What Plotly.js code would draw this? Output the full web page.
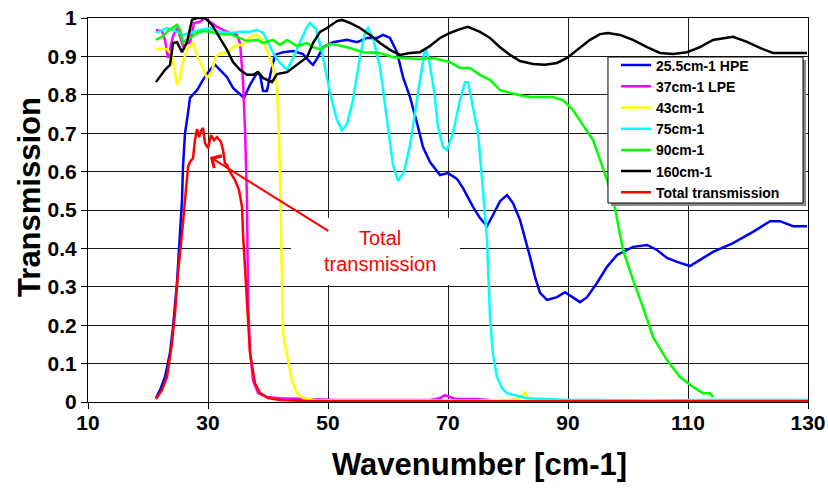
<!DOCTYPE html>
<html>
<head>
<meta charset="utf-8">
<script src="https://cdn.plot.ly/plotly-3.0.1.min.js"></script>
<style>html,body{margin:0;padding:0;background:#fff;}#chart{width:828px;height:490px;}</style>
</head>
<body>
<div id="chart"></div>
<script>
// ---- Data ----
const names = ["25.5cm-1 HPE", "37cm-1 LPE", "43cm-1", "75cm-1", "90cm-1", "160cm-1", "Total transmission"];
const colors = ["#0000FF", "#FF00FF", "#FFFF00", "#00FFFF", "#00FF00", "#000000", "#FF0000"];

const hpeX = [21.33,22,22.83,23.67,24.17,24.83,25.33,25.67,25.83,26.17,26.67,27,28.17,29.17,30.33,31.17,32,33.17,34.17,35.33,36,37,38.17,38.67,39.17,39.83,40.33,41.17,42.5,44.17,45.83,47,47.5,48.33,49.17,50.83,53.17,54.83,56.5,58.17,59.17,60.33,61.5,62.5,63.67,64.83,65.83,67,68.67,70,71.5,72.5,74.17,75.33,76.5,77.5,78.67,79.83,80.83,82,83.17,83.67,84.5,85.33,86.5,88.17,89.5,90.83,92,93.17,94.83,96.5,98.17,100.83,103.17,104.83,106.5,108.17,110.33,112,114.17,117.5,120.83,123.67,125.33,127.5,129.83];
const hpeY = [0.010,0.031,0.065,0.128,0.195,0.310,0.440,0.526,0.612,0.700,0.753,0.792,0.812,0.839,0.865,0.878,0.865,0.846,0.818,0.802,0.792,0.826,0.857,0.852,0.810,0.810,0.849,0.904,0.911,0.914,0.906,0.885,0.878,0.898,0.924,0.937,0.943,0.937,0.948,0.948,0.956,0.948,0.911,0.846,0.794,0.727,0.664,0.625,0.591,0.596,0.581,0.557,0.508,0.479,0.458,0.487,0.523,0.539,0.518,0.474,0.409,0.378,0.326,0.284,0.266,0.273,0.286,0.271,0.260,0.273,0.310,0.352,0.383,0.404,0.409,0.396,0.375,0.365,0.354,0.370,0.391,0.414,0.443,0.471,0.471,0.458,0.458];

const lpeX = [21.33,22.33,22.83,23.33,24.17,24.83,25.33,25.83,27,27.67,28.67,29.5,30.33,31.5,32.5,33.67,34.83,35.33,35.83,36.17,36.5,36.67,37,37.5,38.33,39.83,42,45.33,50.33,58.67,67,68.67,69.5,70.33,71.17,74.5,77];
const lpeY = [0.969,0.966,0.943,0.896,0.953,0.974,0.953,0.927,0.937,0.987,0.990,1.0,0.990,0.977,0.969,0.961,0.956,0.935,0.839,0.708,0.526,0.266,0.135,0.057,0.023,0.013,0.010,0.008,0.006,0.005,0.005,0.010,0.018,0.013,0.008,0.008,0.005];

const f43X = [21.33,23.17,24,24.5,24.83,25.33,25.83,26.67,27.5,28.33,29.17,29.83,30.67,31.17,32,33.17,34,34.83,35.83,37,38.17,39.17,40,40.83,41.5,41.83,42.08,42.33,42.5,43.33,44,44.83,45.83,47.83,60,75,80,81.5,82.5,82.83,83.33,84.5,88];
const f43Y = [0.919,0.919,0.904,0.857,0.826,0.844,0.885,0.924,0.935,0.898,0.865,0.844,0.859,0.896,0.909,0.909,0.922,0.930,0.930,0.951,0.956,0.940,0.911,0.872,0.820,0.700,0.526,0.344,0.180,0.109,0.057,0.023,0.010,0.005,0.004,0.004,0.005,0.008,0.018,0.026,0.010,0.006,0.004];

const f75X = [21.33,23.17,24.17,25.83,27,28.67,30.33,32,33.67,35.33,37,38.17,39.17,39.83,40.83,42,43.17,44.17,45.33,46.5,47,48,49,50.33,51.5,52.33,53.17,54.17,55.33,56.17,56.67,57.5,58.67,59.83,60.83,61.67,62.67,63.67,64.67,65.67,66.17,66.83,67.67,68.33,69.17,69.83,70.83,72,72.83,73.33,74.17,75,75.83,76.5,77,77.5,78.17,79,79.83,81.5,83.17,86.5,89.83,95.33,103.67,112,120.33,130];
const f75Y = [0.961,0.974,0.969,0.956,0.961,0.969,0.974,0.964,0.961,0.964,0.964,0.969,0.961,0.943,0.909,0.883,0.865,0.896,0.937,0.977,0.987,0.971,0.911,0.805,0.734,0.708,0.724,0.786,0.898,0.964,0.974,0.948,0.872,0.742,0.617,0.576,0.599,0.669,0.773,0.883,0.922,0.891,0.812,0.716,0.664,0.656,0.701,0.786,0.833,0.833,0.768,0.701,0.552,0.422,0.221,0.122,0.065,0.036,0.023,0.016,0.010,0.008,0.005,0.005,0.004,0.005,0.005,0.005];

const f90X = [21.33,22.5,23.17,24.17,24.83,25.33,25.83,27,28.17,29.17,30.33,32,33.67,34.83,36.5,38.17,39.17,40.83,42,43.17,44.83,46.5,47.5,48.67,50.33,51.5,53.67,55.83,58.67,60.83,63.17,65.33,67.5,68.67,70.33,72,73.67,75.33,77,78.67,80.33,82,83.67,87.5,89.17,90.83,92.5,94.17,95.83,97.5,99.17,100.83,102.5,104.17,106.5,108.67,110.83,112.5,113.67,114.17];
const f90Y = [0.943,0.953,0.964,0.974,0.982,0.969,0.937,0.948,0.961,0.966,0.964,0.958,0.958,0.951,0.940,0.943,0.935,0.943,0.930,0.943,0.927,0.935,0.924,0.919,0.932,0.930,0.922,0.911,0.909,0.898,0.896,0.893,0.896,0.891,0.885,0.870,0.870,0.852,0.839,0.812,0.805,0.799,0.794,0.794,0.786,0.760,0.721,0.682,0.609,0.531,0.396,0.318,0.247,0.169,0.109,0.065,0.039,0.023,0.023,0.013];

const f160X = [21.33,22.83,23.67,24.17,24.83,25.67,26.5,27.33,28.17,29.5,30.67,31.5,33.17,34.17,35.33,36.5,37.5,38.33,39.17,40.67,41.5,43.17,44.83,46.5,47.5,48.67,49.83,51.5,52.33,53.67,55.33,57,58.67,60.33,62,63.67,65.33,67,68.67,70.33,72,73.33,75.33,77,78.67,80.33,82,84.17,86.17,88.17,89.83,91.5,93.67,95.33,96.67,98.67,100.83,103.17,105.33,107.5,109.83,112,114.17,117.5,119.83,122,124.17,127.5,129.83];
const f160Y = [0.833,0.865,0.878,0.935,0.937,0.911,0.937,0.995,1.0,1.0,0.982,0.961,0.917,0.885,0.865,0.852,0.852,0.859,0.844,0.833,0.854,0.859,0.878,0.898,0.935,0.964,0.974,0.992,0.995,0.987,0.974,0.956,0.935,0.917,0.904,0.909,0.911,0.927,0.948,0.961,0.971,0.977,0.964,0.948,0.924,0.904,0.888,0.880,0.878,0.883,0.896,0.917,0.943,0.958,0.961,0.956,0.943,0.924,0.909,0.906,0.911,0.924,0.943,0.951,0.938,0.922,0.909,0.909,0.909];

const totX = [21.33,22.33,23.17,24,24.5,25,25.67,26.17,26.67,27,27.5,27.83,28.17,28.5,28.83,29.17,29.5,30,30.5,31,31.5,32.17,32.5,32.83,33.17,33.67,34.5,35.17,35.67,35.83,36.17,36.5,37,37.83,38.67,40,42,45.33,60,80,100,130];
const totY = [0.008,0.031,0.065,0.154,0.232,0.336,0.440,0.526,0.612,0.625,0.635,0.682,0.711,0.690,0.706,0.714,0.674,0.661,0.695,0.682,0.690,0.677,0.656,0.622,0.617,0.599,0.578,0.552,0.508,0.440,0.352,0.266,0.128,0.049,0.023,0.010,0.005,0.003,0.002,0.002,0.002,0.002];

const seriesX = [hpeX, lpeX, f43X, f75X, f90X, f160X, totX];
const seriesY = [hpeY, lpeY, f43Y, f75Y, f90Y, f160Y, totY];

const xTitle = "Wavenumber [cm-1]";
const yTitle = "Transmission";
const noteText = "Total<br>transmission";

// ---- Figure ----
const FONT = "Liberation Sans, Arial, sans-serif";
const traces = names.map((n, i) => ({
  type: "scatter", mode: "lines", name: n,
  x: seriesX[i], y: seriesY[i],
  line: {color: colors[i], width: 2.5}
}));

const layout = {
  width: 828, height: 490,
  margin: {l: 88, r: 20, t: 18, b: 88},
  paper_bgcolor: "#fff", plot_bgcolor: "#fff",
  showlegend: true,
  xaxis: {
    range: [10, 130], tick0: 10, dtick: 20, autorange: false,
    showgrid: true, gridcolor: "#1a1a1a", gridwidth: 1,
    showline: true, linecolor: "#000", linewidth: 1, mirror: true,
    zeroline: false,
    ticks: "outside", ticklen: 6, tickcolor: "#000", ticklabelstandoff: -4,
    tickfont: {family: FONT, size: 21, color: "#000", weight: "bold"}
  },
  yaxis: {
    range: [0, 1], tick0: 0, dtick: 0.1, autorange: false,
    showgrid: true, gridcolor: "#1a1a1a", gridwidth: 1,
    showline: true, linecolor: "#000", linewidth: 1, mirror: true,
    zeroline: false,
    ticks: "outside", ticklen: 6, tickcolor: "#000",
    tickfont: {family: FONT, size: 21, color: "#000", weight: "bold"}
  },
  legend: {
    x: 0.7333, y: 0.918, xanchor: "left", yanchor: "top",
    bgcolor: "rgba(0,0,0,0)", borderwidth: 0,
    font: {family: FONT, size: 14, color: "#000", weight: "bold"},
    tracegroupgap: 0, itemwidth: 30
  },
  shapes: [
    // legend frame with drop shadow
    {type: "rect", xref: "paper", yref: "paper", layer: "above",
     x0: 0.7264, x1: 0.9972, y0: 0.5104, y1: 0.8906,
     fillcolor: "#8a8a8a", line: {width: 0}},
    {type: "rect", xref: "paper", yref: "paper", layer: "above",
     x0: 0.7222, x1: 0.9931, y0: 0.5182, y1: 0.8984,
     fillcolor: "#fff", line: {color: "#000", width: 1}},
    // white box behind the note
    {type: "rect", xref: "x", yref: "y", layer: "above",
     x0: 43.83, x1: 72, y0: 0.305, y1: 0.48,
     fillcolor: "#fff", line: {width: 0}}
  ],
  annotations: [
    {x: 58.67, y: 0.393, xref: "x", yref: "y", text: noteText, showarrow: false,
     font: {family: FONT, size: 20, color: "#FF0000"}, align: "center"},
    {x: 30.33, y: 0.638, xref: "x", yref: "y", ax: 50.3, ay: 0.443, axref: "x", ayref: "y",
     text: "", showarrow: true, arrowcolor: "#FF0000", arrowwidth: 2, arrowhead: 4, arrowsize: 1.4},
    // axis titles
    {x: 0.544, y: -0.164, xref: "paper", yref: "paper", text: xTitle, showarrow: false,
     xanchor: "center", yanchor: "middle",
     font: {family: FONT, size: 31, color: "#000", weight: "bold"}},
    {x: -0.0806, y: 0.534, xref: "paper", yref: "paper", text: yTitle, showarrow: false,
     textangle: -90, xanchor: "center", yanchor: "middle",
     font: {family: FONT, size: 31, color: "#000", weight: "bold"}}
  ]
};

Plotly.newPlot("chart", traces, layout, {staticPlot: true, displayModeBar: false});
</script>
</body>
</html>
